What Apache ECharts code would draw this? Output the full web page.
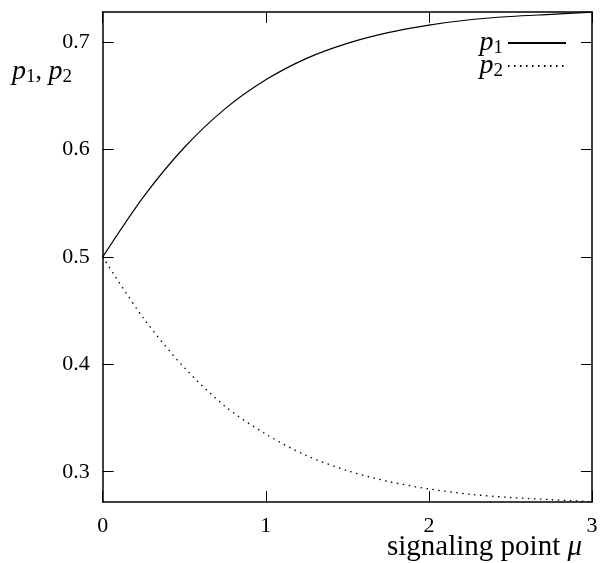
<!DOCTYPE html>
<html>
<head>
    <meta charset="utf-8">
    <title>p1, p2 vs signaling point</title>
    <script src="https://cdn.jsdelivr.net/npm/echarts@6/dist/echarts.min.js"></script>
    <style>
        html, body { margin: 0; padding: 0; background: #fff; }
        #chart1 { width: 601px; height: 563px; }
    </style>
</head>
<body>
<div id="chart1"></div>
<script type="text/javascript">
    // 数据
    const mu = [0, 0.25, 0.5, 0.75, 1.0, 1.25, 1.5, 1.75, 2.0, 2.25, 2.5, 2.75, 3.0];
    const p1 = [0.500, 0.556, 0.602, 0.638, 0.665, 0.685, 0.699, 0.709, 0.716, 0.721, 0.724, 0.726, 0.728];
    const p2 = [0.500, 0.443, 0.397, 0.361, 0.335, 0.315, 0.301, 0.291, 0.284, 0.279, 0.276, 0.274, 0.272];
    const yTicks = [0.3, 0.4, 0.5, 0.6, 0.7];
    const xTicks = [0, 1, 2, 3];

    const serif = 'Liberation Serif';
    const rich = {
        i: { fontFamily: serif, fontStyle: 'italic', fontWeight: 'normal', fontSize: 28, color: '#000' },
        s: { fontFamily: serif, fontWeight: 'normal', fontSize: 19, color: '#000', padding: [11, 0, 0, 0] },
        n: { fontFamily: serif, fontWeight: 'normal', fontSize: 26, color: '#000' }
    };

    let myChart1 = echarts.init(document.getElementById('chart1'));

    // 四周边框 + 向内刻度
    const frame = { show: true, onZero: false, lineStyle: { color: '#000', width: 1.5 } };
    const tick = { show: true, inside: true, length: 11, lineStyle: { color: '#000', width: 1 } };

    myChart1.setOption({
        animation: false,
        grid: { left: 102.7, right: 9, top: 12, bottom: 61, containLabel: false },
        title: [
            {
                text: '{i|p}{s|1}{n|, }{i|p}{s|2}',
                left: 7, top: 52,
                textStyle: { fontWeight: 'normal', rich: rich }
            },
            {
                text: 'signaling point {i|μ}',
                right: 14, bottom: -4,
                textStyle: { fontFamily: serif, fontSize: 29, fontWeight: 'normal', color: '#000',
                    rich: { i: { fontFamily: serif, fontStyle: 'italic', fontSize: 29, color: '#000' } } }
            }
        ],
        legend: {
            right: 29, top: 24,
            orient: 'vertical',
            align: 'right',
            itemWidth: 58, itemHeight: 20, itemGap: -6,
            data: ['p1', 'p2'],
            itemStyle: { opacity: 0 },
            formatter: function (name) { return '{i|p}{s|' + name.slice(1) + '}'; },
            textStyle: { rich: rich }
        },
        xAxis: [
            {
                type: 'value', min: 0, max: 3, interval: 1, position: 'bottom',
                axisLine: frame, axisTick: tick, splitLine: { show: false },
                axisLabel: { color: '#000', fontFamily: serif, fontSize: 22, margin: 13,
                    customValues: xTicks }
            },
            {
                type: 'value', min: 0, max: 3, interval: 1, position: 'top',
                axisLine: frame, axisTick: tick, splitLine: { show: false },
                axisLabel: { show: false }
            }
        ],
        yAxis: [
            {
                type: 'value', min: 0.2718, max: 0.7282, position: 'left',
                axisLine: frame, splitLine: { show: false },
                axisTick: Object.assign({ customValues: yTicks }, tick),
                axisLabel: { color: '#000', fontFamily: serif, fontSize: 22, margin: 13,
                    customValues: yTicks, formatter: v => v.toFixed(1) }
            },
            {
                type: 'value', min: 0.2718, max: 0.7282, position: 'right',
                axisLine: frame, splitLine: { show: false },
                axisTick: Object.assign({ customValues: yTicks }, tick),
                axisLabel: { show: false }
            }
        ],
        series: [
            {
                name: 'p1', type: 'line', smooth: 0.3, symbol: 'none',
                xAxisIndex: 0, yAxisIndex: 0,
                lineStyle: { color: '#000', width: 1.2, type: 'solid' },
                itemStyle: { color: '#000' },
                data: mu.map((m, i) => [m, p1[i]])
            },
            {
                name: 'p2', type: 'line', smooth: 0.3, symbol: 'none',
                xAxisIndex: 0, yAxisIndex: 0,
                lineStyle: { color: '#000', width: 1.3, type: [1.5, 4.5] },
                itemStyle: { color: '#000' },
                data: mu.map((m, i) => [m, p2[i]])
            }
        ]
    });
</script>
</body>
</html>
